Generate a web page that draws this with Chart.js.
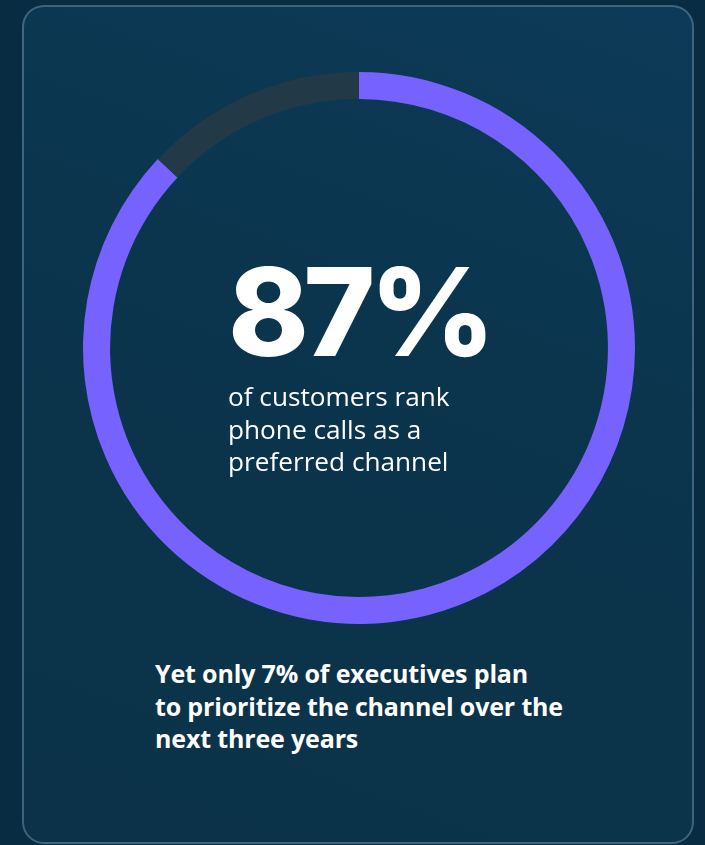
<!DOCTYPE html>
<html>
<head>
<meta charset="utf-8">
<script src="https://cdn.jsdelivr.net/npm/chart.js@4"></script>
<style>
  html, body { margin: 0; padding: 0; }
  body {
    width: 705px; height: 845px; overflow: hidden;
    background: #082d43;
    position: relative;
    font-family: "Open Sans", sans-serif;
    color: #fff;
  }
  .card {
    position: absolute; left: 22px; top: 5px; width: 672px; height: 839px;
    border: 2px solid rgba(160, 190, 210, 0.35);
    border-radius: 22px;
    background: linear-gradient(200deg, #0c3a58 0%, #0b354d 40%, #0b3248 100%);
    box-sizing: border-box;
  }
  .ring { position: absolute; left: 83px; top: 72px; width: 552px; height: 552px; }
  .big {
    position: absolute; left: 228px; top: 251px;
    font-family: Inter, sans-serif; font-weight: 800; font-size: 122px;
    line-height: 122px; letter-spacing: -5.5px;
  }
  .sub {
    position: absolute; left: 228px; top: 380px;
    font-family: "Open Sans", sans-serif; font-size: 26.2px; line-height: 32.5px;
  }
  .foot {
    position: absolute; left: 155px; top: 657px;
    font-family: "Open Sans", sans-serif; font-weight: 700; font-size: 25px; line-height: 32.5px;
    letter-spacing: -0.15px;
  }
</style>
</head>
<body>
<div class="card"></div>
<div class="ring"><canvas id="chart"></canvas></div>
<div class="big">87%</div>
<div class="sub">of customers rank<br>phone calls as a<br>preferred channel</div>
<div class="foot">Yet only 7% of executives plan<br>to prioritize the channel over the<br>next three years</div>
<script>
const labels = ["Rank phone calls as preferred", "Other"];
const shares = [87, 13];
const colours = ["#7662ff", "#223a48"];

new Chart(document.getElementById("chart"), {
  type: "doughnut",
  data: {
    labels: labels,
    datasets: [{
      data: shares,
      backgroundColor: colours,
      borderWidth: 0,
      hoverOffset: 0,
    }],
  },
  options: {
    responsive: true,
    maintainAspectRatio: true,
    aspectRatio: 1,
    cutout: "90.2%",
    rotation: 0,
    animation: false,
    events: [],
    layout: { padding: 0 },
    plugins: { legend: { display: false }, tooltip: { enabled: false } },
  },
});
</script>
</body>
</html>
